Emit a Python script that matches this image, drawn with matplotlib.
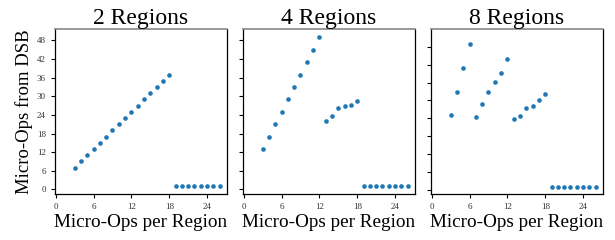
import matplotlib
matplotlib.use("Agg")
import matplotlib.pyplot as plt
import numpy as np

plt.rcParams['font.family'] = ['Liberation Serif', 'DejaVu Serif']

titles = ["2 Regions", "4 Regions", "8 Regions"]
uops = list(range(3, 27))

dsb_2 = [7, 9, 11, 13, 15, 17, 19, 21, 23, 25, 27, 29, 31, 33, 35, 37,
         1, 1, 1, 1, 1, 1, 1, 1]
dsb_4 = [13, 17, 21, 25, 29, 33, 37, 41, 45, 49,
         22, 23.5, 26.1, 26.9, 27.1, 28.6,
         1, 1, 1, 1, 1, 1, 1, 1]
dsb_8 = [25, 33, 41, 49,
         24.6, 28.8, 32.7, 36.3, 39.2, 43.9,
         23.8, 24.9, 27.4, 28.1, 30.3, 32.3,
         1.1, 1.1, 1.1, 1.1, 1.1, 1.1, 1.1, 1.1]
series = [dsb_2, dsb_4, dsb_8]
ylims = [(-1.5, 51.7), (-1.5, 51.7), (-1.4, 54.0)]

fig = plt.figure(figsize=(6.15, 2.4), dpi=100)
lefts = [55, 243, 431]
for i in range(3):
    ax = fig.add_axes([lefts[i] / 615, 1 - 194 / 240, 172 / 615, 165 / 240])
    ax.scatter(uops, series[i], s=11, color='#1f77b4', zorder=3, linewidths=0)
    ax.set_xlim(-0.1, 27.15)
    ax.set_ylim(*ylims[i])
    ax.set_xticks([0, 6, 12, 18, 24])
    ax.set_yticks(np.arange(0, 49, 6))
    ax.tick_params(labelsize=6.5, length=3, width=0.8, direction='out',
                   labelcolor='#333333')
    if i > 0:
        ax.set_yticklabels([])
    else:
        ax.set_ylabel("Micro-Ops from DSB", fontsize=13.5, labelpad=3)
    ax.set_xlabel("Micro-Ops per Region", fontsize=13.8, labelpad=2)
    ax.set_title(titles[i], fontsize=17, pad=3)
    for side in ['left', 'bottom', 'right']:
        ax.spines[side].set_linewidth(0.9)
        ax.spines[side].set_color('black')
    ax.spines['top'].set_color('#888888')
    ax.spines['top'].set_linewidth(1.2)

fig.savefig("out.png", dpi=100)
